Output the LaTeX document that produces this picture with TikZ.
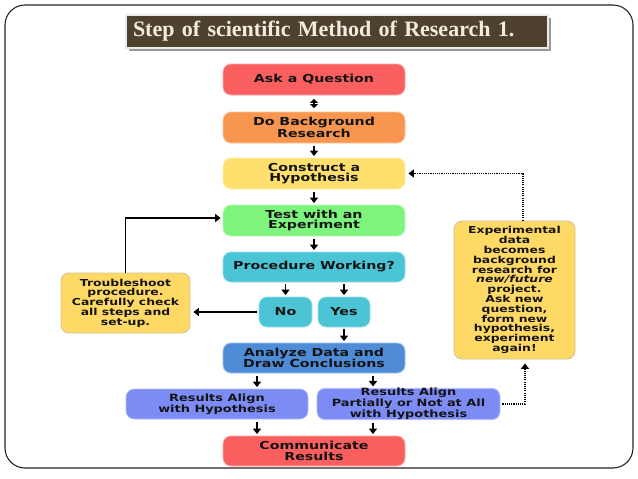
\documentclass[tikz,border=0pt]{standalone}
\usepackage{fontspec}
\usetikzlibrary{arrows.meta}
\newfontfamily\boxfont[FakeStretch=1.29]{DejaVu Sans}
\newfontfamily\titlefont{Liberation Serif}
\definecolor{cRed}{RGB}{250,95,95}
\definecolor{cOrange}{RGB}{248,150,80}
\definecolor{cHyp}{RGB}{255,224,110}
\definecolor{cGreen}{RGB}{125,245,125}
\definecolor{cCyan}{RGB}{75,196,214}
\definecolor{cBlue}{RGB}{78,140,215}
\definecolor{cPeri}{RGB}{125,140,245}
\definecolor{cNote}{RGB}{255,217,102}
\definecolor{cBrown}{RGB}{78,66,46}
\definecolor{cTitleText}{RGB}{242,236,222}
\definecolor{cText}{RGB}{20,20,20}
\tikzset{
  bx/.style={rounded corners=8pt, line width=0.8pt, minimum width=182pt, minimum height=31pt,
    align=center, inner sep=0pt, text=cText,
    font=\boxfont\bfseries\fontsize{11}{10.7}\selectfont},
  smallbx/.style={bx, font=\boxfont\bfseries\fontsize{9.6}{9.8}\selectfont},
  resbx/.style={bx, font=\boxfont\bfseries\fontsize{10}{9.6}\selectfont},
  arr/.style={line width=1.7pt, -{Triangle[length=5.5pt,width=8pt]}},
  arrtwo/.style={line width=1.7pt, {Triangle[length=4pt,width=8pt]}-{Triangle[length=4pt,width=8pt]}},
  dotarr/.style={line width=1.5pt, dash pattern=on 1.1pt off 1.1pt, -{Triangle[length=5.5pt,width=8pt]}}
}
\begin{document}
\begin{tikzpicture}[x=1pt,y=-1pt]
\useasboundingbox (0,0) rectangle (638,479);
\fill[white] (0,0) rectangle (638,479);
% outer frame
\draw[line width=1.1pt, black!85, rounded corners=20pt] (5,5) rectangle (633,468);
% title banner
\fill[black!40] (129,18) rectangle (551,51);
\node[draw=black!8, line width=1.6pt, fill=cBrown, minimum width=422pt, minimum height=33pt,
  inner xsep=7pt, inner ysep=0pt, text width=408pt, align=left,
  text=cTitleText, font=\titlefont\bfseries\fontsize{22}{24}\selectfont] (title) at (337,31.5)
  {Step of scientific Method of Research 1.};
% main boxes
\node[bx, fill=cRed, draw=cRed!55!white] (ask) at (314,79.5) {Ask a Question};
\node[bx, fill=cOrange, draw=cOrange!55!white] (bg) at (314,127.5) {Do Background\\Research};
\node[bx, fill=cHyp, draw=cHyp!55!white] (hyp) at (314,173.5) {Construct a\\Hypothesis};
\node[bx, fill=cGreen, draw=cGreen!55!white] (test) at (314,220.5) {Test with an\\Experiment};
\node[bx, fill=cCyan, draw=cCyan!55!white, minimum height=30pt] (proc) at (314,267) {Procedure Working?};
\node[bx, fill=cCyan, draw=cCyan!55!white, minimum width=53pt, minimum height=30pt] (no) at (285.5,312) {No};
\node[bx, fill=cCyan, draw=cCyan!55!white, minimum width=52pt, minimum height=30pt] (yes) at (344,312) {Yes};
\node[smallbx, fill=cNote, draw=cNote!70!black!60!white, minimum width=129pt, minimum height=60pt] (trb) at (125.5,303)
  {Troubleshoot\\procedure.\\Carefully check\\all steps and\\set-up.};
\node[bx, fill=cBlue, draw=cBlue!55!white, minimum height=30pt] (an) at (314,358) {Analyze Data and\\Draw Conclusions};
\node[resbx, fill=cPeri, draw=cPeri!55!white, minimum height=30pt] (r1) at (217,404) {Results Align\\with Hypothesis};
\node[resbx, fill=cPeri, draw=cPeri!55!white, minimum width=183pt, minimum height=30pt,
  font=\boxfont\bfseries\fontsize{10}{8.9}\selectfont] (r2) at (408.5,404)
  {Results Align\\Partially or Not at All\\with Hypothesis};
\node[bx, fill=cRed, draw=cRed!55!white, minimum height=30pt] (com) at (314,451) {Communicate\\Results};
\node[smallbx, fill=cNote, draw=cNote!70!black!60!white, minimum width=121pt, minimum height=138pt] (exp) at (514.5,290)
  {Experimental\\data\\becomes\\background\\research for\\\textit{new/future}\\project.\\Ask new\\question,\\form new\\hypothesis,\\experiment\\again!};
% connectors
\draw[arrtwo] ([yshift=-3.5pt]ask.south) -- ([yshift=3.5pt]bg.north);
\draw[arr] ([yshift=-3pt]bg.south) -- ([yshift=1.5pt]hyp.north);
\draw[arr] ([yshift=-3pt]hyp.south) -- ([yshift=1.5pt]test.north);
\draw[arr] ([yshift=-3pt]test.south) -- ([yshift=1.5pt]proc.north);
\draw[arr] ([yshift=-2pt]no.north |- proc.south) -- ([yshift=1.5pt]no.north);
\draw[arr] ([yshift=-2pt]yes.north |- proc.south) -- ([yshift=1.5pt]yes.north);
\draw[arr] ([yshift=-2pt]yes.south) -- ([yshift=1.5pt]yes.south |- an.north);
\draw[arr] ([xshift=-2pt]no.west) -- ([xshift=3pt]trb.east |- no.west);
\draw[arr] (trb.north) |- ([xshift=-2pt,yshift=2.5pt]test.west);
\draw[arr] ([xshift=-57pt,yshift=-2.5pt]an.south) -- ([xshift=-57pt,yshift=1.5pt]an.south |- r1.north);
\draw[arr] ([xshift=59pt,yshift=-2.5pt]an.south) -- ([xshift=59pt,yshift=1.5pt]an.south |- r2.north);
\draw[arr] ([xshift=-57pt,yshift=-2.5pt]an.south |- r1.south) -- ([xshift=-57pt,yshift=1.5pt]com.north);
\draw[arr] ([xshift=59pt,yshift=-2.5pt]an.south |- r2.south) -- ([xshift=59pt,yshift=1.5pt]com.north);
\draw[dotarr] ([xshift=2pt]r2.east) -| ([xshift=10.5pt,yshift=-4pt]exp.south);
\draw[dotarr] ([xshift=8.5pt]exp.north) |- ([xshift=3pt]hyp.east);
\end{tikzpicture}
\end{document}
